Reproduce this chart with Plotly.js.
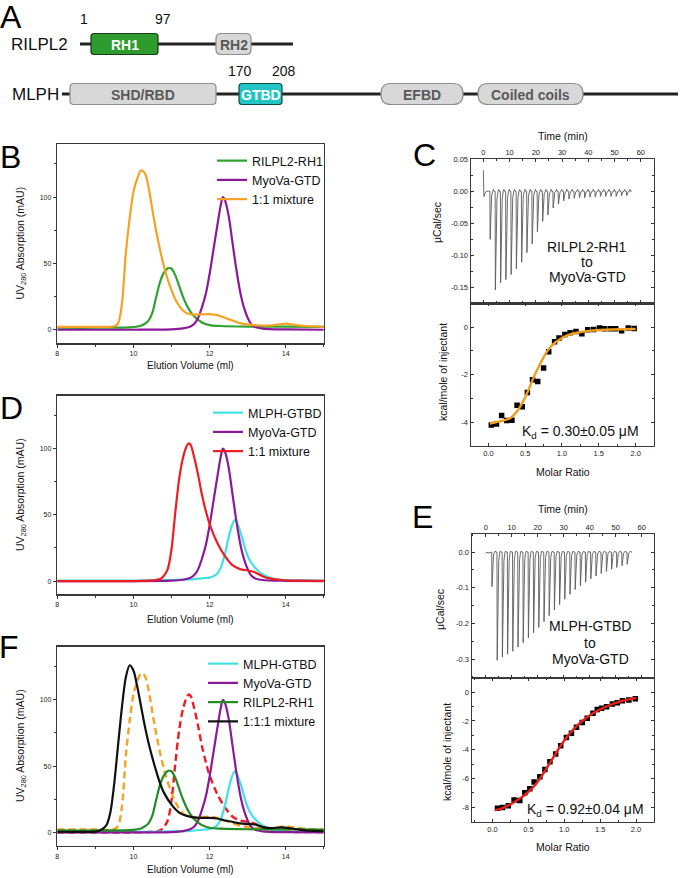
<!DOCTYPE html>
<html><head><meta charset="utf-8">
<script src="https://cdn.plot.ly/plotly-3.0.1.min.js"></script>
<style>body{margin:0;background:#fff}#chart{width:680px;height:878px}</style>
</head><body><div id="chart"></div>
<script>
// ---------- Panel A: domain schematics ----------
const rilpl2Domains = ['RH1', 'RH2'];
const rilpl2Residues = ['1', '97'];
const mlphDomains = ['SHD/RBD', 'GTBD', 'EFBD', 'Coiled coils'];
const mlphResidues = ['170', '208'];

// ---------- Size-exclusion chromatography (elution volume ml, UV280 mAU) ----------
const rh1Vol = [8, 9, 10, 10.2, 10.3, 10.4, 10.5, 10.6, 10.7, 10.8, 10.9, 10.95, 11.0, 11.1, 11.2, 11.3, 11.4, 11.5, 11.6, 11.8, 12.0, 12.3, 13, 14, 15];
const rh1Abs = [1.5, 1.5, 2, 3, 4.5, 7, 13, 25, 36, 43, 46.3, 46.5, 46, 41, 33, 25, 18.5, 13.5, 10, 5.5, 3.5, 2.8, 2.4, 2.3, 2.2];

const gtdVol = [8, 10, 11, 11.3, 11.5, 11.6, 11.7, 11.8, 11.9, 12.0, 12.1, 12.2, 12.3, 12.35, 12.4, 12.5, 12.6, 12.7, 12.8, 12.9, 13.0, 13.1, 13.2, 13.4, 13.7, 14, 15];
const gtdAbs = [0, 0, 0.3, 1, 2.5, 4.5, 9, 17, 27, 42, 60, 78, 95, 100, 98, 86, 66, 46, 29, 17, 9, 4, 2, 0.8, 0.3, 0.2, 0];

const mixRGVol = [8, 9, 9.5, 9.6, 9.7, 9.8, 9.9, 10.0, 10.1, 10.2, 10.3, 10.4, 10.5, 10.6, 10.7, 10.8, 10.9, 11.0, 11.1, 11.2, 11.3, 11.4, 11.6, 11.8, 12.0, 12.2, 12.4, 12.6, 12.8, 13.0, 13.3, 13.6, 13.8, 14.0, 14.2, 14.5, 15];
const mixRGAbs = [2.2, 2.2, 2.6, 5, 20, 58, 84, 104, 114, 120, 118, 107, 90, 74, 60, 48, 38, 30, 23, 18, 14.5, 12.5, 11.4, 11.6, 11.8, 11, 9, 7, 5, 4, 3.2, 3.2, 4, 4.6, 3.8, 2.8, 2.2];

const gtbdVol = [8, 10, 11, 11.5, 11.8, 12.0, 12.1, 12.2, 12.3, 12.4, 12.5, 12.6, 12.66, 12.7, 12.8, 12.9, 13.0, 13.1, 13.2, 13.3, 13.4, 13.6, 13.8, 14, 15];
const gtbdAbs = [0.3, 0.4, 0.8, 1.2, 2, 2.6, 3.6, 5.5, 10.5, 20, 33, 43, 46, 45, 38, 28, 19, 13.5, 10, 7, 5, 2.5, 1.2, 0.7, 0.4];

const mixMGVol = [8, 10, 10.5, 10.7, 10.8, 10.9, 11.0, 11.1, 11.2, 11.3, 11.4, 11.45, 11.5, 11.6, 11.7, 11.8, 11.9, 12.0, 12.2, 12.4, 12.6, 12.8, 13.0, 13.2, 13.4, 13.6, 13.9, 14.3, 15];
const mixMGAbs = [0, 0, 0.5, 1.5, 4, 9, 24, 52, 77, 93, 102, 104, 103, 93, 80, 65, 53, 43, 29, 19, 12, 9, 8, 6.5, 3.5, 1.8, 0.8, 0.3, 0.2];

const mix3Vol = [8, 9, 9.1, 9.2, 9.3, 9.4, 9.5, 9.6, 9.7, 9.8, 9.9, 10.0, 10.1, 10.2, 10.3, 10.4, 10.5, 10.6, 10.7, 10.8, 11.0, 11.2, 11.4, 11.7, 12.0, 12.2, 12.4, 12.6, 12.8, 13.0, 13.2, 13.4, 13.6, 13.9, 14.2, 14.6, 15];
const mix3Abs = [0.5, 0.6, 1.2, 2.8, 6, 16, 38, 67, 95, 117, 126, 122, 110, 95, 80, 67, 56, 46, 37, 30, 21, 15, 12.5, 11, 11, 10.5, 9, 8, 6.8, 6.3, 6, 4, 3.3, 3.8, 2.8, 1.3, 1];

const elutionTicks = [8, 10, 12, 14];
const absTicks = [0, 50, 100];

// ---------- ITC C: RILPL2-RH1 into MyoVa-GTD ----------
const itcCStartTime = [0, 0.25, 0.6, 1.2, 2.0];
const itcCStartPower = [0.033, -0.008, -0.003, 0, 0];
const itcCInjTime = [2.5, 4.5, 6.5, 8.5, 10.5, 12.5, 14.5, 16.5, 18.5, 20.5, 22.5, 24.5, 26.5, 28.5, 30.5, 32.5, 34.5, 36.5, 38.5, 40.5, 42.5, 44.5, 46.5, 48.5, 50.5, 52.5, 54.5];
const itcCPeak = [-0.075, -0.154, -0.143, -0.138, -0.130, -0.121, -0.111, -0.096, -0.082, -0.063, -0.047, -0.037, -0.026, -0.020, -0.015, -0.012, -0.011, -0.010, -0.010, -0.009, -0.009, -0.008, -0.008, -0.008, -0.008, -0.007, -0.007];
const itcCEnd = 56.5;
const itcCMolar = [0.04, 0.11, 0.18, 0.25, 0.32, 0.39, 0.46, 0.53, 0.60, 0.67, 0.75, 0.82, 0.90, 0.96, 1.04, 1.11, 1.19, 1.27, 1.35, 1.43, 1.51, 1.58, 1.66, 1.73, 1.81, 1.90, 1.98];
const itcCHeat = [-4.12, -4.08, -3.72, -3.93, -3.92, -3.29, -3.35, -2.75, -2.21, -2.29, -1.72, -1.04, -0.62, -0.46, -0.31, -0.24, -0.19, -0.28, -0.11, -0.10, -0.04, -0.07, -0.07, -0.07, -0.15, -0.04, -0.06];
const itcCFitMolar = [0.02, 0.1, 0.2, 0.3, 0.4, 0.5, 0.55, 0.6, 0.65, 0.7, 0.75, 0.8, 0.85, 0.9, 1.0, 1.1, 1.2, 1.4, 1.6, 1.8, 2.0];
const itcCFitHeat = [-4.06, -4.0, -3.93, -3.82, -3.5, -2.95, -2.6, -2.22, -1.88, -1.56, -1.27, -1.01, -0.82, -0.67, -0.46, -0.32, -0.24, -0.15, -0.11, -0.09, -0.08];

// ---------- ITC E: MLPH-GTBD into MyoVa-GTD ----------
const itcEStartTime = [0, 0.4, 1.0, 2.0];
const itcEStartPower = [-0.004, 0.0, -0.002, 0];
const itcEInjTime = [2.3, 4.3, 6.3, 8.3, 10.3, 12.3, 14.3, 16.3, 18.3, 20.3, 22.3, 24.3, 26.3, 28.3, 30.3, 32.3, 34.3, 36.3, 38.3, 40.3, 42.3, 44.3, 46.3, 48.3, 50.3, 52.3, 54.3];
const itcEPeak = [-0.097, -0.303, -0.294, -0.286, -0.278, -0.266, -0.254, -0.240, -0.226, -0.211, -0.195, -0.178, -0.162, -0.147, -0.132, -0.118, -0.105, -0.094, -0.084, -0.075, -0.067, -0.060, -0.054, -0.048, -0.043, -0.038, -0.034];
const itcEEnd = 56.2;
const itcEMolar = [0.07, 0.14, 0.22, 0.30, 0.38, 0.45, 0.52, 0.58, 0.66, 0.73, 0.80, 0.88, 0.95, 1.03, 1.10, 1.17, 1.25, 1.32, 1.40, 1.46, 1.52, 1.59, 1.67, 1.74, 1.81, 1.90, 1.99];
const itcEHeat = [-8.07, -8.02, -7.90, -7.50, -7.52, -6.99, -6.71, -6.25, -5.88, -5.38, -4.83, -4.30, -3.72, -3.15, -2.85, -2.44, -2.11, -1.82, -1.47, -1.20, -1.13, -1.01, -0.83, -0.74, -0.60, -0.55, -0.46];
const itcEFitMolar = [0.03, 0.1, 0.2, 0.3, 0.4, 0.5, 0.6, 0.7, 0.8, 0.9, 1.0, 1.1, 1.2, 1.3, 1.4, 1.5, 1.6, 1.7, 1.8, 1.9, 2.0];
const itcEFitHeat = [-8.2, -8.12, -7.92, -7.65, -7.33, -6.92, -6.41, -5.72, -4.92, -4.11, -3.36, -2.74, -2.23, -1.82, -1.47, -1.2, -0.97, -0.78, -0.62, -0.51, -0.41];

const timeTicks = [0, 10, 20, 30, 40, 50, 60];
const molarTicks = [0, 0.5, 1, 1.5, 2];
const molarTickText = ['0.0', '0.5', '1.0', '1.5', '2.0'];
const powerCTicks = [0.05, 0, -0.05, -0.10, -0.15];
const powerCTickText = ['0.05', '0.00', '-0.05', '-0.10', '-0.15'];
const powerETicks = [0, -0.1, -0.2, -0.3];
const powerETickText = ['0.0', '-0.1', '-0.2', '-0.3'];
const heatCTicks = [0, -2, -4];
const heatCTickText = ['0', '-2', '-4'];
const heatETicks = [0, -2, -4, -6, -8];
const heatETickText = ['0', '-2', '-4', '-6', '-8'];

// ================= rendering =================
const FONT = 'Liberation Sans, Arial, Helvetica, sans-serif';
const W = 680, H = 878;
const fx = p => p / W, fy = p => 1 - p / H;

function thermogram(t0, v0, times, peaks, tEnd) {
  const x = t0.slice(), y = v0.slice();
  times.forEach((t, i) => {
    const d = peaks[i];
    x.push(t, t + 0.1, t + 0.35, t + 0.7, t + 1.1, t + 1.35, t + 1.6);
    y.push(0, d, d * 0.3, d * 0.08, 0, 0.003, 0);
  });
  x.push(tEnd); y.push(0);
  return {x, y};
}

const data = [];
const lw = 2.2;
const C = {green: '#2fa22f', green2: '#238c23', purple: '#8a1a99', orange: '#f7a224', cyan: '#3fe2e2', red: '#ee1d23', black: '#111111'};
function chrom(x, y, color, name, xa, ya, legend, extra) {
  return Object.assign({x, y, name, type: 'scatter', mode: 'lines', xaxis: xa, yaxis: ya, legend,
    line: {color, width: lw, shape: 'spline', smoothing: 0.8}}, extra || {});
}
// B
data.push(chrom(rh1Vol, rh1Abs, C.green, 'RILPL2-RH1', 'x', 'y', 'legend'));
data.push(chrom(gtdVol, gtdAbs, C.purple, 'MyoVa-GTD', 'x', 'y', 'legend'));
data.push(chrom(mixRGVol, mixRGAbs, C.orange, '1:1 mixture', 'x', 'y', 'legend'));
// D
data.push(chrom(gtbdVol, gtbdAbs, C.cyan, 'MLPH-GTBD', 'x2', 'y2', 'legend2'));
data.push(chrom(gtdVol, gtdAbs, C.purple, 'MyoVa-GTD', 'x2', 'y2', 'legend2'));
data.push(chrom(mixMGVol, mixMGAbs, C.red, '1:1 mixture', 'x2', 'y2', 'legend2'));
// F
data.push(chrom(mixRGVol, mixRGAbs, C.orange, 'RILPL2-RH1 + MyoVa-GTD', 'x3', 'y3', 'legend3', {showlegend: false, line: {color: C.orange, width: 2.4, dash: '7px,4px', shape: 'spline', smoothing: 0.8}}));
data.push(chrom(mixMGVol, mixMGAbs, C.red, 'MLPH-GTBD + MyoVa-GTD', 'x3', 'y3', 'legend3', {showlegend: false, line: {color: C.red, width: 2.4, dash: '7px,4px', shape: 'spline', smoothing: 0.8}}));
data.push(chrom(gtbdVol, gtbdAbs, C.cyan, 'MLPH-GTBD', 'x3', 'y3', 'legend3', {legendrank: 1}));
data.push(chrom(gtdVol, gtdAbs, C.purple, 'MyoVa-GTD', 'x3', 'y3', 'legend3', {legendrank: 2}));
data.push(chrom(rh1Vol, rh1Abs, C.green2, 'RILPL2-RH1', 'x3', 'y3', 'legend3', {legendrank: 3}));
data.push(chrom(mix3Vol, mix3Abs, C.black, '1:1:1 mixture', 'x3', 'y3', 'legend3', {legendrank: 4}));

// ITC raw thermograms
const thC = thermogram(itcCStartTime, itcCStartPower, itcCInjTime, itcCPeak, itcCEnd);
data.push({x: thC.x, y: thC.y, type: 'scatter', mode: 'lines', xaxis: 'x4', yaxis: 'y4', showlegend: false, line: {color: '#5a5a5a', width: 0.9}});
const thE = thermogram(itcEStartTime, itcEStartPower, itcEInjTime, itcEPeak, itcEEnd);
data.push({x: thE.x, y: thE.y, type: 'scatter', mode: 'lines', xaxis: 'x6', yaxis: 'y6', showlegend: false, line: {color: '#5a5a5a', width: 0.9}});
// ITC integrated heats
data.push({x: itcCMolar, y: itcCHeat, type: 'scatter', mode: 'markers', xaxis: 'x5', yaxis: 'y5', showlegend: false, marker: {symbol: 'square', size: 5.5, color: '#000'}});
data.push({x: itcCFitMolar, y: itcCFitHeat, type: 'scatter', mode: 'lines', xaxis: 'x5', yaxis: 'y5', showlegend: false, line: {color: '#f39c1e', width: 2.4, shape: 'spline'}});
data.push({x: itcEMolar, y: itcEHeat, type: 'scatter', mode: 'markers', xaxis: 'x7', yaxis: 'y7', showlegend: false, marker: {symbol: 'square', size: 5.5, color: '#000'}});
data.push({x: itcEFitMolar, y: itcEFitHeat, type: 'scatter', mode: 'lines', xaxis: 'x7', yaxis: 'y7', showlegend: false, line: {color: '#e8201c', width: 2.4, shape: 'spline'}});

// ---- axes ----
const chromXDom = [fx(57.3), fx(323.8)];
function chromX(yDomAnchor) {
  return {domain: chromXDom, anchor: yDomAnchor, range: [8, 15], tickmode: 'array', tickvals: elutionTicks,
    ticks: 'outside', ticklen: 3, tickwidth: 1, tickcolor: '#333',
    minor: {tickmode: 'linear', tick0: 8, dtick: 1, ticks: 'outside', ticklen: 2, tickcolor: '#333'},
    showline: true, linecolor: '#3a3a3a', linewidth: 1.5, mirror: true, showgrid: false, zeroline: false,
    tickfont: {family: FONT, size: 7, color: '#222'}, fixedrange: true};
}
function chromY(dom, anchor) {
  return {domain: dom, anchor, range: [-10, 140], tickmode: 'array', tickvals: absTicks,
    ticks: 'outside', ticklen: 3, tickwidth: 1, tickcolor: '#333',
    minor: {tickmode: 'linear', tick0: 0, dtick: 25, ticks: 'outside', ticklen: 2, tickcolor: '#333'},
    showline: true, linecolor: '#3a3a3a', linewidth: 1.5, mirror: true, showgrid: false, zeroline: false,
    tickfont: {family: FONT, size: 7, color: '#222'}, fixedrange: true};
}
function itcAxis(o) {
  return Object.assign({ticks: 'inside', ticklen: 3, tickwidth: 1, tickcolor: '#333',
    showline: true, linecolor: '#3a3a3a', linewidth: 1.2, mirror: 'allticks', showgrid: false, zeroline: false,
    tickfont: {family: FONT, size: 7.5, color: '#222'}, fixedrange: true}, o);
}
const itcCX = [fx(470.7), fx(654)], itcEX = [fx(471.7), fx(654)];

const layout = {
  width: W, height: H, margin: {l: 0, r: 0, t: 0, b: 0}, paper_bgcolor: '#fff', plot_bgcolor: 'rgba(0,0,0,0)',
  font: {family: FONT, color: '#111'},
  xaxis: chromX('y'), yaxis: chromY([fy(343), fy(144)], 'x'),
  xaxis2: chromX('y2'), yaxis2: chromY([fy(594.3), fy(395.7)], 'x2'),
  xaxis3: chromX('y3'), yaxis3: chromY([fy(845.7), fy(646.7)], 'x3'),
  xaxis4: itcAxis({domain: itcCX, anchor: 'y4', side: 'top', range: [-4.8, 65], tickmode: 'array', tickvals: timeTicks,
    minor: {tickmode: 'linear', tick0: 0, dtick: 5, ticks: 'inside', ticklen: 2, tickcolor: '#333'}}),
  yaxis4: itcAxis({domain: [fy(303.3), fy(159.3)], anchor: 'x4', range: [-0.175, 0.05], tickmode: 'array', tickvals: powerCTicks, ticktext: powerCTickText,
    minor: {tickmode: 'linear', tick0: 0, dtick: 0.025, ticks: 'inside', ticklen: 2, tickcolor: '#333'}}),
  xaxis5: itcAxis({domain: itcCX, anchor: 'y5', range: [-0.24, 2.25], tickmode: 'array', tickvals: molarTicks, ticktext: molarTickText,
    minor: {tickmode: 'linear', tick0: 0, dtick: 0.25, ticks: 'inside', ticklen: 2, tickcolor: '#333'}}),
  yaxis5: itcAxis({domain: [fy(446), fy(303.3)], anchor: 'x5', range: [-5, 1], tickmode: 'array', tickvals: heatCTicks, ticktext: heatCTickText,
    minor: {tickmode: 'linear', tick0: 0, dtick: 1, ticks: 'inside', ticklen: 2, tickcolor: '#333'}}),
  xaxis6: itcAxis({domain: itcEX, anchor: 'y6', side: 'top', range: [-5.4, 64.7], tickmode: 'array', tickvals: timeTicks,
    minor: {tickmode: 'linear', tick0: 0, dtick: 5, ticks: 'inside', ticklen: 2, tickcolor: '#333'}}),
  yaxis6: itcAxis({domain: [fy(677.7), fy(534.3)], anchor: 'x6', range: [-0.352, 0.05], tickmode: 'array', tickvals: powerETicks, ticktext: powerETickText,
    minor: {tickmode: 'linear', tick0: 0, dtick: 0.05, ticks: 'inside', ticklen: 2, tickcolor: '#333'}}),
  xaxis7: itcAxis({domain: itcEX, anchor: 'y7', range: [-0.29, 2.25], tickmode: 'array', tickvals: molarTicks, ticktext: molarTickText,
    minor: {tickmode: 'linear', tick0: 0, dtick: 0.25, ticks: 'inside', ticklen: 2, tickcolor: '#333'}}),
  yaxis7: itcAxis({domain: [fy(821.7), fy(677.7)], anchor: 'x7', range: [-9, 1], tickmode: 'array', tickvals: heatETicks, ticktext: heatETickText,
    minor: {tickmode: 'linear', tick0: 0, dtick: 1, ticks: 'inside', ticklen: 2, tickcolor: '#333'}}),
  // schematic canvas for panel A (units = pixels)
  xaxis8: {domain: [0, 1], anchor: 'y8', range: [0, 680], visible: false, fixedrange: true},
  yaxis8: {domain: [fy(125), 1], anchor: 'x8', range: [125, 0], visible: false, fixedrange: true},
  showlegend: true,
  legend: {x: fx(212), y: fy(146), xanchor: 'left', yanchor: 'top', bgcolor: 'rgba(0,0,0,0)', itemwidth: 30, tracegroupgap: 0, font: {family: FONT, size: 12.5, color: '#111'}},
  legend2: {x: fx(208), y: fy(398), xanchor: 'left', yanchor: 'top', bgcolor: 'rgba(0,0,0,0)', itemwidth: 30, tracegroupgap: 0, font: {family: FONT, size: 12.5, color: '#111'}},
  legend3: {x: fx(203), y: fy(649), xanchor: 'left', yanchor: 'top', bgcolor: 'rgba(0,0,0,0)', itemwidth: 30, tracegroupgap: 0, traceorder: 'normal', font: {family: FONT, size: 12.5, color: '#111'}},
  shapes: [], annotations: []
};

function ann(text, x, y, o) {
  return Object.assign({text, x: fx(x), y: fy(y), xref: 'paper', yref: 'paper', showarrow: false, xanchor: 'center', yanchor: 'middle',
    font: {family: FONT, size: 12, color: '#111'}}, o || {});
}
const A = layout.annotations;
// panel letters
[['A', 11, 17], ['B', 10, 157], ['C', 424, 155], ['D', 11, 408], ['E', 422, 517], ['F', 9, 647]].forEach(([t, x, y]) =>
  A.push(ann(t, x, y, {font: {family: FONT, size: 32, color: '#000'}})));
// chromatography axis titles
[243.5, 495, 746].forEach(y => A.push(ann('UV<sub>280</sub> Absorption (mAU)', 21, y, {textangle: -90, font: {family: FONT, size: 10.5, color: '#111'}})));
[365, 619, 869].forEach(y => A.push(ann('Elution Volume (ml)', 190.5, y, {font: {family: FONT, size: 10, color: '#111'}})));
// ITC titles
[[135.7], [509.3]].forEach(([y]) => A.push(ann('Time (min)', 563, y, {font: {family: FONT, size: 10.5, color: '#111'}})));
A.push(ann('μCal/sec', 437, 223, {textangle: -90, font: {family: FONT, size: 10.5, color: '#111'}}));
A.push(ann('μCal/sec', 440, 610, {textangle: -90, font: {family: FONT, size: 10.5, color: '#111'}}));
A.push(ann('kcal/mole of injectant', 443, 372, {textangle: -90, font: {family: FONT, size: 10.5, color: '#111'}}));
A.push(ann('kcal/mole of injectant', 447, 752, {textangle: -90, font: {family: FONT, size: 10.5, color: '#111'}}));
A.push(ann('Molar Ratio', 563, 472, {font: {family: FONT, size: 10.5, color: '#111'}}));
A.push(ann('Molar Ratio', 563, 846.7, {font: {family: FONT, size: 10.5, color: '#111'}}));
// ITC labels
[['RILPL2-RH1', 247], ['to', 262], ['MyoVa-GTD', 277]].forEach(([t, y]) => A.push(ann(t, 587, y, {font: {family: FONT, size: 14, color: '#111'}})));
[['MLPH-GTBD', 626], ['to', 643], ['MyoVa-GTD', 659]].forEach(([t, y]) => A.push(ann(t, 590, y, {font: {family: FONT, size: 14, color: '#111'}})));
A.push(ann('K<sub>d</sub> = 0.30±0.05 μM', 641, 431.5, {xanchor: 'right', font: {family: FONT, size: 14, color: '#111'}}));
A.push(ann('K<sub>d</sub> = 0.92±0.04 μM', 646, 810, {xanchor: 'right', font: {family: FONT, size: 14, color: '#111'}}));

// ---- Panel A schematic (pixel units on x8/y8) ----
const geoA = {
  rilRowY: 44, mlRowY: 94, boxH: 21, resY1: 19, resY2: 71,
  rilLine: [80, 293], mlLine: [62, 678],
  rilBoxes: [[91, 158, 3], [216, 251, 5]],
  mlBoxes: [[70, 216, 4], [239, 282, 3], [381, 463, 10], [478, 583, 10]],
  rilResX: [84, 163], mlResX: [240, 284]
};
const styleA = {
  RH1: {fill: '#2e9b2e', line: '#173d17', text: '#ffffff', size: 14},
  GTBD: {fill: '#22c4c4', line: '#0e4c4c', text: '#ffffff', size: 14},
  gray: {fill: '#d8d8d8', line: '#8c8c8c', text: '#585858', size: 14}
};
function rr(x0, x1, yc, h, r) {
  const y0 = yc - h / 2, y1 = yc + h / 2;
  return `M${x0 + r},${y0} L${x1 - r},${y0} Q${x1},${y0} ${x1},${y0 + r} L${x1},${y1 - r} Q${x1},${y1} ${x1 - r},${y1} L${x0 + r},${y1} Q${x0},${y1} ${x0},${y1 - r} L${x0},${y0 + r} Q${x0},${y0} ${x0 + r},${y0} Z`;
}
const S = layout.shapes;
S.push({type: 'line', xref: 'x8', yref: 'y8', x0: geoA.rilLine[0], x1: geoA.rilLine[1], y0: geoA.rilRowY, y1: geoA.rilRowY, line: {color: '#222', width: 3.2}});
S.push({type: 'line', xref: 'x8', yref: 'y8', x0: geoA.mlLine[0], x1: geoA.mlLine[1], y0: geoA.mlRowY, y1: geoA.mlRowY, line: {color: '#222', width: 3.2}});
function domainBox(name, box, yc) {
  const st = styleA[name] || styleA.gray;
  S.push({type: 'path', xref: 'x8', yref: 'y8', path: rr(box[0], box[1], yc, geoA.boxH, box[2]), fillcolor: st.fill, line: {color: st.line, width: 1.2}});
  A.push({text: '<b>' + name + '</b>', x: (box[0] + box[1]) / 2, y: yc + 0.5, xref: 'x8', yref: 'y8', showarrow: false, xanchor: 'center', yanchor: 'middle',
    font: {family: FONT, size: st.size, color: st.text}});
}
rilpl2Domains.forEach((d, i) => domainBox(d, geoA.rilBoxes[i], geoA.rilRowY));
mlphDomains.forEach((d, i) => domainBox(d, geoA.mlBoxes[i], geoA.mlRowY));
rilpl2Residues.forEach((r, i) => A.push({text: r, x: geoA.rilResX[i], y: geoA.resY1, xref: 'x8', yref: 'y8', showarrow: false, font: {family: FONT, size: 14, color: '#111'}}));
mlphResidues.forEach((r, i) => A.push({text: r, x: geoA.mlResX[i], y: geoA.resY2, xref: 'x8', yref: 'y8', showarrow: false, font: {family: FONT, size: 14, color: '#111'}}));
A.push({text: 'RILPL2', x: 70, y: geoA.rilRowY, xref: 'x8', yref: 'y8', xanchor: 'right', showarrow: false, font: {family: FONT, size: 17, color: '#111'}});
A.push({text: 'MLPH', x: 61, y: geoA.mlRowY, xref: 'x8', yref: 'y8', xanchor: 'right', showarrow: false, font: {family: FONT, size: 17, color: '#111'}});

Plotly.newPlot('chart', data, layout, {staticPlot: true, displayModeBar: false});
</script>
</body></html>
